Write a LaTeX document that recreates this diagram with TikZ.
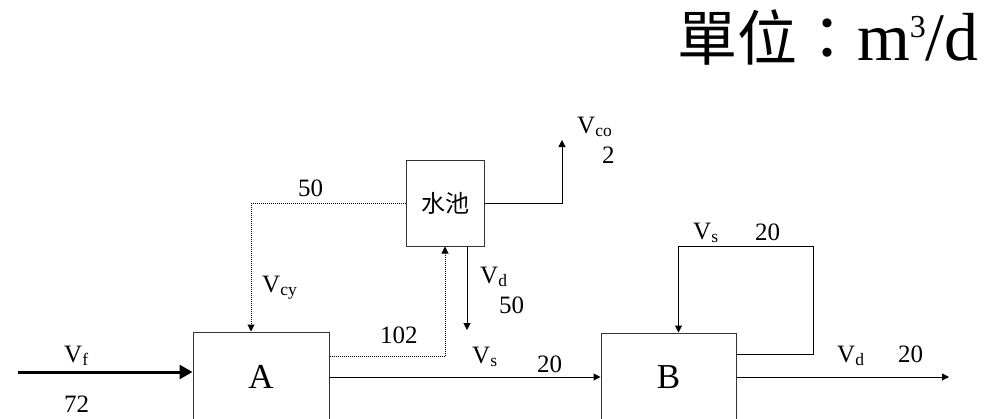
\documentclass[tikz,border=0pt]{standalone}
\usepackage{fontspec}
\setmainfont{Liberation Serif}
\newfontfamily\cjk{Noto Sans CJK TC}
\usetikzlibrary{arrows.meta}

\begin{document}
\begin{tikzpicture}[x=1pt, y=-1pt,
	tank/.style={draw=black!80, line width=1pt, inner sep=0pt, font=\fontsize{35}{35}\selectfont},
	flow/.style={line width=1pt, -{Triangle[length=7pt,width=7pt]}},
	recyc/.style={flow, densely dotted},
	lbl/.style={inner sep=0pt, anchor=base west, font=\fontsize{25}{25}\selectfont}]
	
	\path[use as bounding box, clip] (0,0) rectangle (996,418);
	
	\node[anchor=base east, inner sep=0pt] (unit) at (979,60)
		{{\cjk\fontsize{60}{60}\selectfont 單位：}\fontsize{68}{68}\selectfont m\raisebox{23pt}{\fontsize{32}{32}\selectfont 3}/d};
	
	\node[tank, minimum width=136pt, minimum height=90pt] (A) at (261,377) {A};
	\node[tank, minimum width=135pt, minimum height=88pt] (B) at (668.5,377) {B};
	\node[tank, minimum width=78pt, minimum height=86pt, font=\cjk\fontsize{24}{24}\selectfont] (pool) at (445,203) {水池};
	
	\coordinate (feed) at (18,372);
	\coordinate (vd) at (467,330);
	\coordinate (vco) at (562,140);
	\coordinate (loop) at (813,246);
	\coordinate (out) at (949,377);
	
	\draw[line width=3pt, -{Triangle[length=13pt,width=14pt]}] (feed) -- (feed -| A.west);
	\draw[recyc] (pool.west) -| ([xshift=-10pt]A.north);
	\draw[recyc] ([yshift=21pt]A.east) -| (pool.south);
	\draw[flow] ([xshift=22pt]pool.south) -- (vd);
	\draw[flow] (pool.east) -| (vco);
	\draw[flow] (A.east) -- (B.west);
	\draw[flow] ([yshift=23pt]B.east) -| (loop) -| ([xshift=10pt]B.north);
	\draw[flow] (B.east) -- (out);
	
	\node[lbl] (vf) at (64,362) {V\textsubscript{f}};
	\node[lbl] (qf) at (64,412) {72};
	\node[lbl] (qcy) at (298,196) {50};
	\node[lbl] (vcy) at (262,292) {V\textsubscript{cy}};
	\node[lbl] (qret) at (380,343) {102};
	\node[lbl] (vdp) at (480,283) {V\textsubscript{d}};
	\node[lbl] (qdp) at (499,313) {50};
	\node[lbl] (vcol) at (577,133) {V\textsubscript{co}};
	\node[lbl] (qco) at (602,163) {2};
	\node[lbl] (vsa) at (472,363) {V\textsubscript{s}};
	\node[lbl] (qsa) at (537,372) {20};
	\node[lbl] (vsb) at (693,239) {V\textsubscript{s}};
	\node[lbl] (qsb) at (755,240) {20};
	\node[lbl] (vdb) at (837,362) {V\textsubscript{d}};
	\node[lbl] (qdb) at (898,362) {20};
	
\end{tikzpicture}
\end{document}
